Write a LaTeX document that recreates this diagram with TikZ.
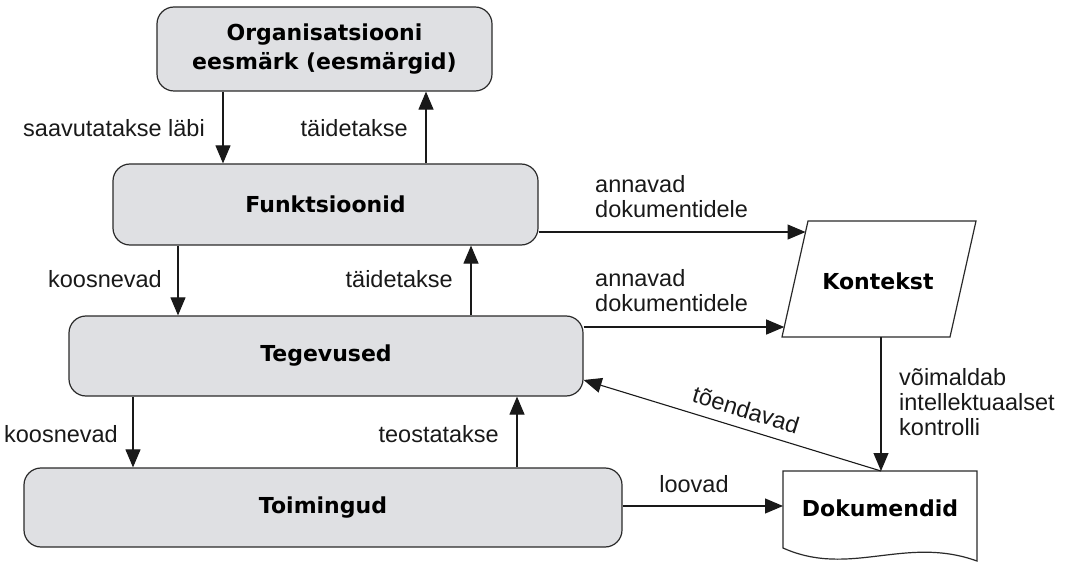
\documentclass[tikz,border=0pt]{standalone}
\usepackage{fontspec}
\setmainfont{Liberation Sans}
\newfontfamily\headfont{DejaVu Sans}
\usetikzlibrary{arrows.meta,calc}
\definecolor{boxgray}{HTML}{DFE0E3}
\definecolor{linegray}{HTML}{2A2A2A}

\begin{document}
\begin{tikzpicture}[x=1pt,y=1pt,
  box/.style={draw=linegray,line width=1.2pt,fill=boxgray,rounded corners=17pt,
    font=\headfont\bfseries\fontsize{22}{29}\selectfont,align=center,inner sep=0pt},
  title/.style={font=\headfont\bfseries\fontsize{22}{29}\selectfont,inner sep=0pt},
  outline/.style={draw=linegray,line width=1.2pt},
  lbl/.style={font=\fontsize{23.5}{25}\selectfont,inner sep=0pt,text=black!90},
  arr/.style={draw=black!90,line width=1.1pt,-{Triangle[length=18pt,width=15pt]}}]
\useasboundingbox (0,0) rectangle (1068,563);

% boxes
\node[box,minimum width=335pt,minimum height=84pt] (org) at (324.5,514) {Organisatsiooni\\eesmärk (eesmärgid)};
\node[box,minimum width=425pt,minimum height=81pt] (fun) at (325.5,358.5) {Funktsioonid};
\node[box,minimum width=514pt,minimum height=80pt] (teg) at (326,207) {Tegevused};
\node[box,minimum width=598pt,minimum height=79pt] (toim) at (323,55.5) {Toimingud};

% Kontekst
\coordinate (k1) at (782,226);
\coordinate (k2) at (950,226);
\coordinate (k3) at (976,342);
\coordinate (k4) at (808,342);
\draw[outline] (k1) -- (k2) -- (k3) -- (k4) -- cycle;
\node[title] (kon) at (878,282) {Kontekst};

% Dokumendid
\draw[outline] (783,92) -- (977,92) -- (977,2) .. controls (905,28) and (850,-15) .. (783,15) -- cycle;
\node[title] (dok) at (880,54.5) {Dokumendid};
\coordinate (dtop) at (881,92);
\coordinate (dleft) at (783,57);
\coordinate (kf) at ($(k1)!0.905!(k4)$);
\coordinate (kt) at ($(k1)!0.086!(k4)$);

% vertical arrows
\draw[arr] (org.south -| 223,0) -- (fun.north -| 223,0);
\draw[arr] (fun.north -| 426,0) -- (org.south -| 426,0);
\draw[arr] (fun.south -| 178,0) -- (teg.north -| 178,0);
\draw[arr] (teg.north -| 471,0) -- (fun.south -| 471,0);
\draw[arr] (teg.south -| 133,0) -- (toim.north -| 133,0);
\draw[arr] (toim.north -| 517,0) -- (teg.south -| 517,0);

% to the right
\draw[arr] (fun.east |- kf) -- (kf);
\draw[arr] (teg.east |- kt) -- (kt);
\draw[arr] (k1 -| dtop) -- (dtop);
\draw[arr] (dtop) -- ([yshift=-24pt]teg.east);
\draw[arr] (toim.east |- dleft) -- (dleft);

% labels
\node[lbl,anchor=base east] (l1) at (205,426) {saavutatakse läbi};
\node[lbl,anchor=base east] (l2) at (408,426) {täidetakse};
\node[lbl,anchor=base east] (l3) at (162,275) {koosnevad};
\node[lbl,anchor=base east] (l4) at (453,275) {täidetakse};
\node[lbl,anchor=base east] (l5) at (118,121) {koosnevad};
\node[lbl,anchor=base east] (l6) at (499,121) {teostatakse};
\node[lbl,anchor=west,align=left] (l7) at (595,366) {annavad\\dokumentidele};
\node[lbl,anchor=west,align=left] (l8) at (595,272) {annavad\\dokumentidele};
\node[lbl,anchor=west,align=left] (l9) at (899,160.5) {võimaldab\\intellektuaalset\\kontrolli};
\node[lbl,anchor=base] (l10) at (694,71) {loovad};
\node[lbl,rotate=-17] (l11) at (746,153) {tõendavad};
\end{tikzpicture}
\end{document}
